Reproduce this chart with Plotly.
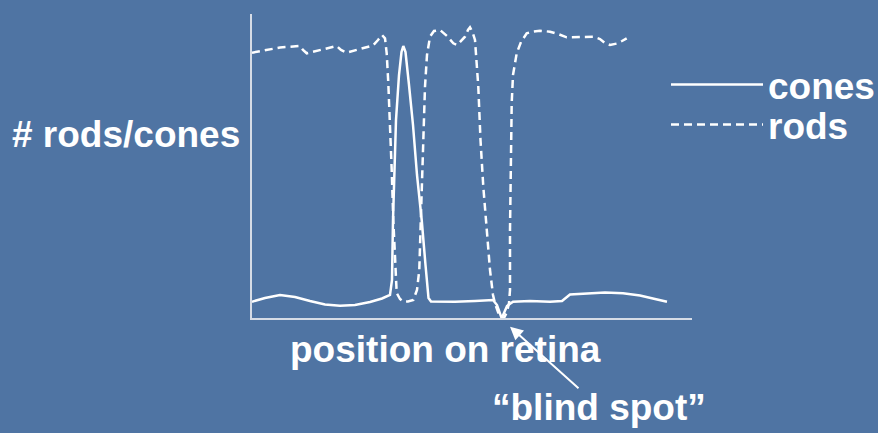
import plotly.graph_objects as go

# positions along retina (arbitrary units) and counts (arbitrary units)
cones_x = [0, 13, 28, 43, 58, 73, 88, 103, 118, 130, 138, 140, 141, 142.5, 144, 147, 149.5, 151.3, 153.5, 157,
           161, 165, 169.7, 173.5, 176.5, 179, 185, 203, 223, 241, 245, 247.5, 249.7, 252, 255, 261, 278, 298,
           310, 318, 333, 353, 371, 388, 403, 415]
cones_y = [16.3, 20, 23, 21, 17, 13.5, 12.3, 13, 16, 19.5, 23, 38, 98, 158, 198, 243, 266, 272, 266, 233,
           193, 143, 98, 53, 20, 16.5, 16.3, 16.3, 17, 18, 13, 5, -0.3, 5, 12, 16.3, 17, 16.3,
           17, 23.5, 24.5, 25.5, 24.7, 22.5, 19, 16.3]

rods_x = [0, 13, 28, 48, 51, 54.7, 68, 84.7, 89, 94.7, 108, 121, 126, 130, 133, 134.7, 136.3, 138, 139.7, 141.3,
          143, 144.7, 148, 151.3, 156, 161.3, 165, 167.3, 168.5, 169.7, 171, 173, 175, 178, 182, 188, 195, 201.3,
          205.3, 209, 213, 216, 218, 220.5, 223, 226.3, 228.5, 231.3, 234.5, 238, 241, 243, 246, 249, 252, 255,
          257, 258, 258, 258.5, 259.7, 261, 264.7, 269, 274.7, 281, 288, 298, 306, 314.7, 328, 341.3, 348, 353,
          358, 365, 370, 374.7]
rods_y = [265.3, 268, 270.5, 272, 268, 264.7, 268, 272, 268, 265.3, 269, 272.5, 278, 283, 279.7, 264.7, 235, 198,
          148, 98, 58, 25, 19, 16.3, 16.5, 18, 28, 48, 88, 131.3, 178, 231.3, 263, 281.3, 287, 288, 282, 274.7,
          273, 276.5, 281.3, 288, 290.7, 286, 278, 231.3, 178, 131.3, 88, 48, 23, 14.7, 6, 0, 0, 6,
          15, 28, 88, 131.3, 214.7, 243, 264.7, 276, 284.7, 286.5, 287.3, 286.3, 284, 280.7, 281, 281.3, 279, 275,
          273, 274.5, 277, 279.7]

assert len(cones_x) == len(cones_y) and len(rods_x) == len(rods_y)

y_label = "# rods/cones"
x_label = "position on retina"
note_label = "\u201cblind spot\u201d"
series_names = ["cones", "rods"]

BG = "#4f74a3"
FONT = "Arial, 'Liberation Sans', sans-serif"
W, H = 878, 433
ML, MR, MT, MB = 252, 186, 14, 115
PW, PH = W - ML - MR, H - MT - MB


def px(xp):
    return (xp - ML) / PW


def py(yp):
    return (H - MB - yp) / PH


fig = go.Figure()
fig.add_trace(go.Scatter(x=cones_x, y=cones_y, mode="lines", name=series_names[0],
                         line=dict(color="white", width=2.5), legend="legend"))
fig.add_trace(go.Scatter(x=rods_x, y=rods_y, mode="lines", name=series_names[1],
                         line=dict(color="white", width=2.5, dash="8px,5px"), legend="legend2"))

axis_common = dict(showgrid=False, zeroline=False, showticklabels=False, ticks="",
                   showline=True, linecolor="#d6dce6", linewidth=2)
fig.update_xaxes(range=[0, PW], **axis_common)
fig.update_yaxes(range=[0, PH], **axis_common)

leg_common = dict(font=dict(family=FONT, size=37, color="white", weight="bold"),
                  bgcolor="rgba(0,0,0,0)", borderwidth=0, itemwidth=92,
                  xanchor="left", yanchor="middle")
ann_font = dict(family=FONT, size=37, color="white", weight="bold")

fig.update_layout(
    width=W, height=H,
    margin=dict(l=ML, r=MR, t=MT, b=MB, autoexpand=False),
    paper_bgcolor=BG, plot_bgcolor=BG,
    showlegend=True,
    legend=dict(x=px(666), y=py(85), **leg_common),
    legend2=dict(x=px(666), y=py(125), **leg_common),
    annotations=[
        dict(text=y_label, xref="paper", yref="paper", x=px(10), y=py(134.5),
             xanchor="left", yanchor="middle", showarrow=False, font=ann_font),
        dict(text=x_label, xref="paper", yref="paper", x=px(445), y=py(349.5),
             xanchor="center", yanchor="middle", showarrow=False, font=ann_font),
        dict(text=note_label, xref="paper", yref="paper", x=px(599), y=py(407.5),
             xanchor="center", yanchor="middle", showarrow=False, font=ann_font),
        dict(text="", xref="paper", yref="paper", x=px(510), y=py(326.7),
             ax=70, ay=63, showarrow=True, arrowhead=2, arrowsize=1.3, arrowwidth=2,
             arrowcolor="white"),
    ],
)

fig.write_html("out.html", config={"displayModeBar": False},
               post_script="document.body.style.margin='0';document.body.style.background='%s';" % BG)
